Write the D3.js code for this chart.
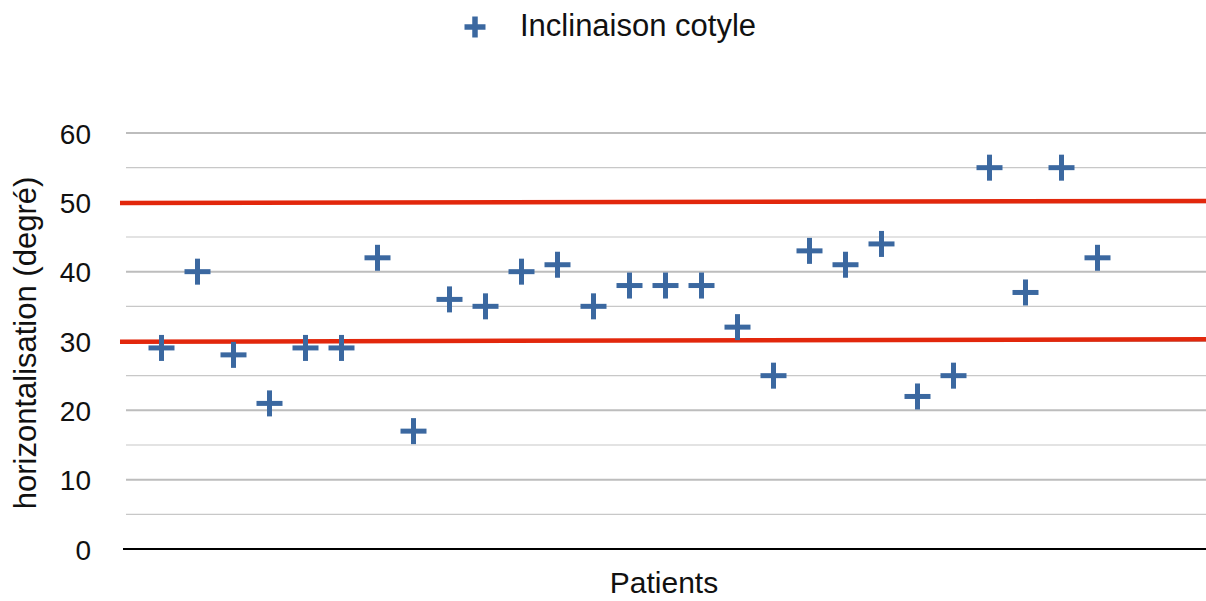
<!DOCTYPE html>
<html>
<head>
<meta charset="utf-8">
<script src="https://cdn.jsdelivr.net/npm/d3@7"></script>
<style>
  body { margin: 0; background: #fff; }
  svg { display: block; font-family: "Liberation Sans", Arial, Helvetica, sans-serif; }
</style>
</head>
<body>
<svg id="chart" width="1206" height="601"></svg>
<script>
const seriesName = "Inclinaison cotyle";
const patients = d3.range(1, 28);
const inclinaison = [29, 40, 28, 21, 29, 29, 42, 17, 36, 35, 40, 41, 35, 38, 38, 38, 32, 25, 43, 41, 44, 22, 25, 55, 37, 55, 42];
const yTicks = [0, 10, 20, 30, 40, 50, 60];
const yMinorTicks = [5, 15, 25, 35, 45, 55];
const thresholdLow = [29.9, 30.25];
const thresholdHigh = [49.9, 50.2];
const yLabel = "horizontalisation (degré)";
const xLabel = "Patients";

const svg = d3.select("#chart");
const x = d3.scaleLinear().domain([0, 30]).range([125.5, 1205.5]);
const y = d3.scaleLinear().domain([0, 60]).range([549, 133]);
const blue = "#3b68a0";
const red = "#e2270c";
const textColor = "#111";

// minor grid
svg.append("g").selectAll("line").data(yMinorTicks).join("line")
  .attr("x1", 126).attr("x2", 1206)
  .attr("y1", d => y(d)).attr("y2", d => y(d))
  .attr("stroke", "#c8c8c8").attr("stroke-width", 1.2);

// tick labels via axis
const yAxis = d3.axisLeft(y).tickValues(yTicks).tickSize(0).tickPadding(0);
const gy = svg.append("g").attr("transform", "translate(91,0)").call(yAxis);
gy.select(".domain").remove();
gy.selectAll("text").attr("font-size", 28).attr("fill", textColor).attr("dy", "0.36em")
  .attr("font-family", "Liberation Sans, Arial, sans-serif");

// major grid
svg.append("g").selectAll("line").data(yTicks.filter(d => d > 0)).join("line")
  .attr("x1", 126).attr("x2", 1206)
  .attr("y1", d => y(d)).attr("y2", d => y(d))
  .attr("stroke", "#bdbdbd").attr("stroke-width", 2);

// zero axis
svg.append("line").attr("x1", 123).attr("x2", 1206)
  .attr("y1", y(0)).attr("y2", y(0)).attr("stroke", "#000").attr("stroke-width", 2);

// threshold lines
[thresholdLow, thresholdHigh].forEach(t => {
  svg.append("line")
    .attr("x1", 120).attr("x2", 1206)
    .attr("y1", y(t[0])).attr("y2", y(t[1]))
    .attr("stroke", red).attr("stroke-width", 4.5);
});

// plus markers
function drawPlus(sel, cx, cy, half, w) {
  const g = sel.append("g").attr("transform", `translate(${cx},${cy})`);
  g.append("line").attr("x1", -half).attr("x2", half).attr("y1", 0).attr("y2", 0)
    .attr("stroke", blue).attr("stroke-width", w);
  g.append("line").attr("x1", 0).attr("x2", 0).attr("y1", -half).attr("y2", half)
    .attr("stroke", blue).attr("stroke-width", w);
}
const pts = svg.append("g");
inclinaison.forEach((v, i) => drawPlus(pts, x(patients[i]), y(v), 13, 5));

// legend
drawPlus(svg.append("g"), 475, 27, 10.5, 5.5);
svg.append("text").attr("x", 520).attr("y", 36).attr("font-size", 31).attr("fill", textColor)
  .text(seriesName);

// axis titles
svg.append("text").attr("x", 664).attr("y", 593).attr("text-anchor", "middle")
  .attr("font-size", 30).attr("fill", textColor).text(xLabel);
svg.append("text")
  .attr("transform", `translate(36,343) rotate(-90)`)
  .attr("text-anchor", "middle").attr("font-size", 31).attr("fill", textColor).text(yLabel);
</script>
</body>
</html>
